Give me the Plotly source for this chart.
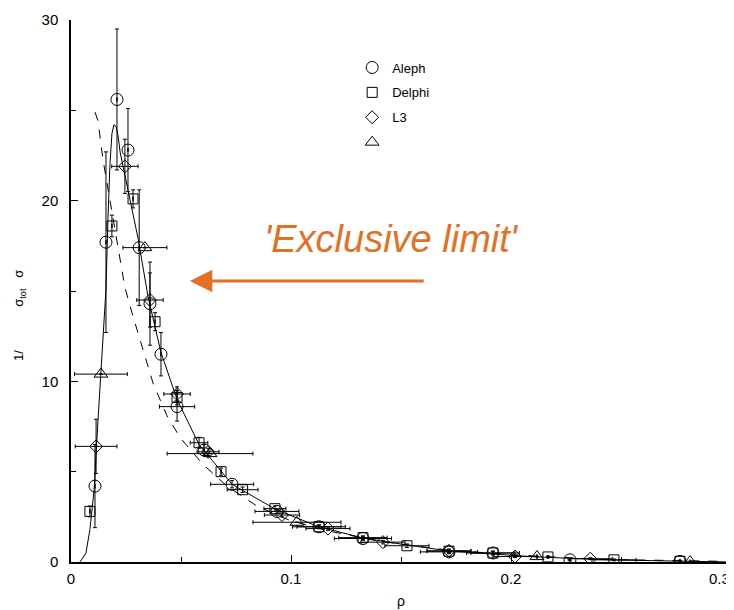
import plotly.graph_objects as go

# ---------------- data ----------------
aleph_x = [0.0109, 0.0159, 0.0209, 0.0259, 0.0310, 0.0359, 0.0409, 0.0482, 0.0605, 0.0732,
           0.0936, 0.1127, 0.1327, 0.1718, 0.1918, 0.2268, 0.2768]
aleph_y = [4.2, 17.7, 25.6, 22.8, 17.4, 14.3, 11.5, 8.6, 6.2, 4.3,
           2.8, 1.95, 1.3, 0.56, 0.5, 0.12, 0.03]
aleph_ey = [2.3, 5.0, 3.9, 2.3, 3.2, 2.3, 1.2, 0.8, 0.3, 0.2,
            0.1, 0.1, 0.1, 0.1, 0.1, 0.05, 0.05]
aleph_ex = [0, 0, 0, 0, 0, 0, 0, 0.008, 0, 0.0098,
            0.010, 0.012, 0.013, 0.013, 0.012, 0, 0]

delphi_x = [0.0086, 0.0186, 0.0282, 0.0382, 0.0482, 0.0582, 0.0682, 0.0780, 0.0927, 0.1127,
            0.1327, 0.1527, 0.1718, 0.1918, 0.2168, 0.2468, 0.2768]
delphi_y = [2.8, 18.6, 20.1, 13.3, 9.1, 6.6, 5.0, 4.0, 2.95, 1.95,
            1.35, 0.9, 0.6, 0.5, 0.28, 0.12, 0.04]
delphi_ey = [0.3, 0.6, 0.5, 0.5, 0.4, 0.3, 0.2, 0.15, 0.15, 0.1,
             0.1, 0.1, 0.1, 0.1, 0.05, 0.05, 0.05]
delphi_ex = [0, 0, 0, 0, 0, 0.004, 0, 0.007, 0.005, 0.010,
             0.011, 0.010, 0.010, 0.010, 0, 0.010, 0]

l3_x = [0.0114, 0.0245, 0.0359, 0.0482, 0.0623, 0.0959, 0.1168, 0.1418, 0.1718, 0.2018, 0.2360]
l3_y = [6.4, 21.9, 14.5, 9.3, 6.1, 2.6, 1.85, 1.1, 0.62, 0.3, 0.18]
l3_ey = [1.5, 1.5, 1.5, 0.4, 0.2, 0.1, 0.1, 0.1, 0.1, 0.05, 0.05]
l3_ex = [0.0095, 0.006, 0.006, 0.006, 0.005, 0.008, 0.010, 0.010, 0.010, 0.010, 0.010]

opal_x = [0.0136, 0.0336, 0.0632, 0.1027, 0.2118, 0.2814]
opal_y = [10.4, 17.4, 6.0, 2.2, 0.3, 0.02]
opal_ex = [0.012, 0.010, 0.0195, 0.020, 0, 0]

fit_x = [0.0041, 0.0068, 0.0086, 0.0105, 0.0123, 0.0141, 0.0159, 0.0168, 0.0177, 0.0186,
         0.0195, 0.0205, 0.0214, 0.0223, 0.0241, 0.0259, 0.0282, 0.0305, 0.0350, 0.0409,
         0.0482, 0.0582, 0.0732, 0.0932, 0.1127, 0.1327, 0.1527, 0.1718, 0.1918, 0.2118,
         0.2468, 0.2768, 0.3000]
fit_y = [0.0, 0.5, 1.8, 4.0, 7.9, 11.8, 15.1, 19.0, 22.0, 23.7,
         24.2, 24.1, 23.6, 22.7, 21.6, 20.5, 19.2, 17.9, 14.7, 11.6,
         9.0, 6.5, 4.3, 2.9, 1.95, 1.33, 0.94, 0.61, 0.44, 0.28,
         0.11, 0.03, 0.0]

excl_x = [0.0109, 0.0123, 0.0145, 0.0177, 0.0200, 0.0223, 0.0245, 0.0277, 0.0323, 0.0373,
          0.0436, 0.0495, 0.0600, 0.0709, 0.0845, 0.0995, 0.1177, 0.1400, 0.1720, 0.2040,
          0.2400, 0.3000]
excl_y = [24.9, 24.4, 22.3, 20.1, 18.3, 16.8, 15.2, 13.8, 11.9, 9.9,
          8.1, 6.9, 5.4, 4.2, 3.1, 2.3, 1.7, 1.15, 0.65, 0.38,
          0.15, 0.03]

x_range = [0, 0.3]
y_range = [0, 30]
x_tickvals = [0, 0.1, 0.2, 0.3]
x_ticktext = ["0", "0.1", "0.2", ""]
x_last_label = "0.3"

FONT = "Liberation Sans, Arial, sans-serif"
ORANGE = "rgb(226,113,38)"

fig = go.Figure()

fig.add_trace(go.Scatter(x=fit_x, y=fit_y, mode="lines", line=dict(color="black", width=1),
                         showlegend=False, hoverinfo="skip"))
fig.add_trace(go.Scatter(x=excl_x, y=excl_y, mode="lines",
                         line=dict(color="black", width=1, dash="dash"),
                         showlegend=False, hoverinfo="skip"))


def add_series(name, xs, ys, ex, ey, symbol, size, legend_label):
    fig.add_trace(go.Scatter(
        x=xs, y=ys, mode="markers", name=legend_label, legendgroup=name,
        marker=dict(symbol=symbol, size=size, color="black",
                    line=dict(color="black", width=1)),
        error_x=dict(type="data", array=ex, visible=True, color="black", thickness=1, width=2),
        error_y=dict(type="data", array=ey, visible=True, color="black", thickness=1, width=2),
    ))


add_series("aleph", aleph_x, aleph_y, aleph_ex, aleph_ey, "circle-open", 12, "Aleph")
add_series("delphi", delphi_x, delphi_y, delphi_ex, delphi_ey, "square-open", 10, "Delphi")
add_series("l3", l3_x, l3_y, l3_ex, l3_ey, "diamond-open", 10, "L3")
add_series("opal", opal_x, opal_y, opal_ex, [0] * len(opal_x), "triangle-up-open", 12, " ")

fig.update_layout(
    width=726, height=602,
    margin=dict(l=63, r=3, t=12, b=48, autoexpand=False),
    paper_bgcolor="white", plot_bgcolor="white",
    font=dict(family=FONT, size=15, color="black"),
    showlegend=True,
    legend=dict(x=0.426, y=0.94, xanchor="left", yanchor="top",
                bgcolor="rgba(0,0,0,0)", borderwidth=0,
                font=dict(family=FONT, size=13, color="black"),
                tracegroupgap=5, itemwidth=30),
    xaxis=dict(range=x_range, tickmode="array", tickvals=x_tickvals, ticktext=x_ticktext,
               showgrid=False, zeroline=False,
               showline=True, linecolor="black", linewidth=1.5, automargin=False,
               ticks="inside", ticklen=7, tickcolor="black", ticklabelstandoff=2,
               minor=dict(tickmode="linear", tick0=0, dtick=0.05, ticks="inside",
                          ticklen=5, tickcolor="black"),
               tickfont=dict(size=15)),
    yaxis=dict(range=y_range, dtick=10, tick0=0, showgrid=False, zeroline=False,
               showline=True, linecolor="black", linewidth=1.5, automargin=False,
               ticks="inside", ticklen=7, tickcolor="black", ticklabeloverflow="allow",
               ticklabelstandoff=8,
               minor=dict(dtick=5, ticks="inside", ticklen=5, tickcolor="black"),
               tickfont=dict(size=15)),
)

fig.add_annotation(xref="x", yref="paper", x=x_range[1], y=0, yanchor="top", xanchor="right",
                   xshift=1, yshift=-6, text=x_last_label, showarrow=False,
                   font=dict(size=15))
fig.add_annotation(xref="paper", yref="paper", x=0.5, y=-0.072, yanchor="middle",
                   text="ρ", showarrow=False, font=dict(size=14))
fig.add_annotation(xref="paper", yref="paper", x=-0.078, y=0.455, xanchor="center",
                   text="1/" + "&nbsp;" * 12 + "σ<sub>tot</sub>" + "&nbsp;" * 3 + "σ",
                   textangle=-90, showarrow=False, font=dict(size=13))

fig.add_annotation(xref="x", yref="y", x=0.1455, y=17.9, text="<i>'Exclusive limit'</i>",
                   showarrow=False, font=dict(size=38, color=ORANGE))
fig.add_annotation(xref="x", yref="y", x=0.054, y=15.56, ax=0.161, ay=15.56,
                   axref="x", ayref="y", text="", showarrow=True,
                   arrowhead=2, arrowsize=1.5, arrowwidth=3, arrowcolor=ORANGE)

fig.write_html("out.html")
